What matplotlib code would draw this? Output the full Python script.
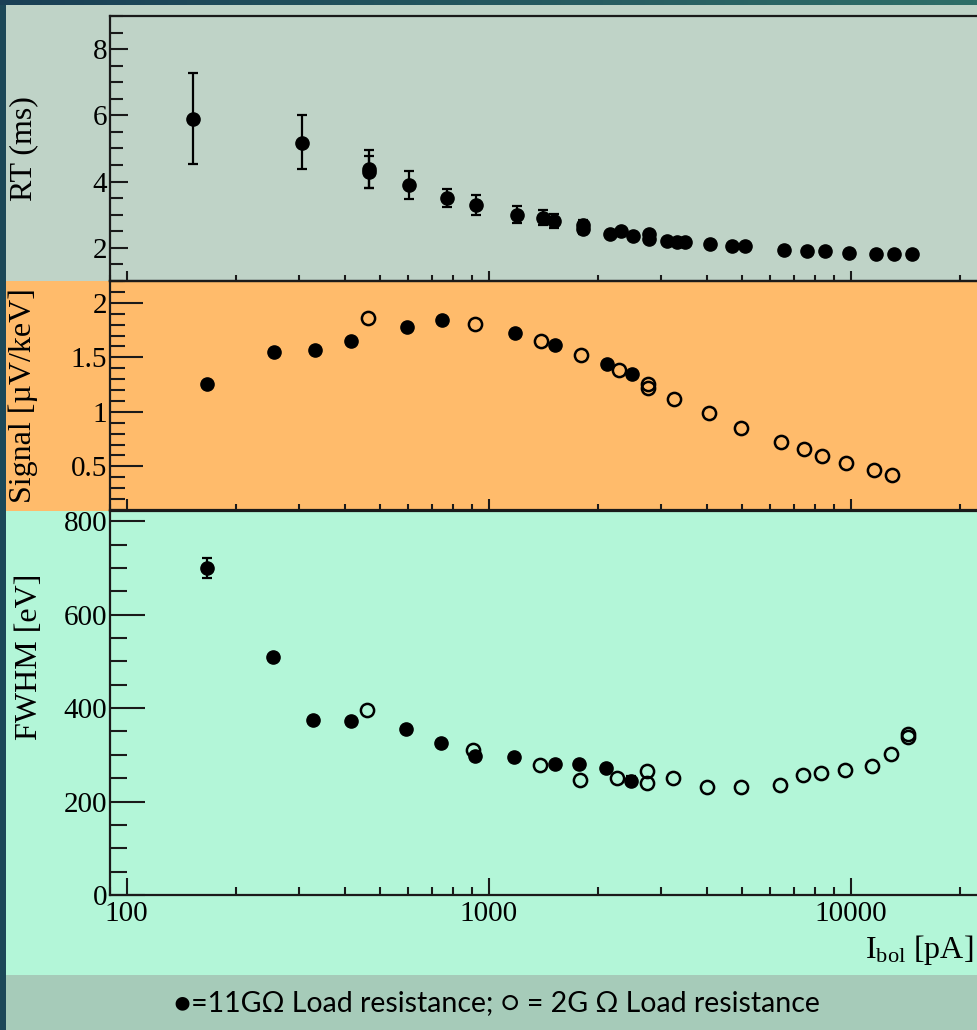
import numpy as np
import matplotlib
matplotlib.use('Agg')
import matplotlib.pyplot as plt
import matplotlib.ticker as mticker
from matplotlib.patches import Rectangle
from matplotlib.colors import LinearSegmentedColormap

plt.rcParams.update({
    'font.family':        'Liberation Serif',
    'mathtext.fontset':   'custom',
    'mathtext.rm':        'Liberation Serif',
    'mathtext.it':        'Liberation Serif:italic',
    'xtick.direction':    'in',
    'ytick.direction':    'in',
})

# ── Data ──────────────────────────────────────────────────────────────────────
# rise time, 11 GOhm load (all filled)
rt_i = [153, 305, 467, 467, 604, 766, 922, 1196, 1411, 1520, 1827, 1827,
        2166, 2318, 2502, 2781, 2781, 3118, 3323, 3490, 4092, 4696, 5111,
        6550, 7568, 8486, 9924, 11760, 13214, 14757]
rt = [5.88, 5.18, 4.38, 4.29, 3.90, 3.50, 3.30, 3.00, 2.90, 2.81, 2.68, 2.58,
      2.43, 2.50, 2.35, 2.42, 2.28, 2.20, 2.18, 2.18, 2.11, 2.05, 2.07,
      1.95, 1.91, 1.90, 1.86, 1.83, 1.80, 1.81]
rt_lo = [1.36, 0.79, 0.57, 0.49, 0.42, 0.28, 0.30, 0.26, 0.20, 0.20, 0.15, 0.15,
         0, 0, 0, 0.06, 0.06, 0, 0, 0, 0, 0, 0, 0, 0, 0, 0, 0, 0, 0]
rt_hi = [1.40, 0.82, 0.58, 0.49, 0.41, 0.28, 0.31, 0.26, 0.24, 0.22, 0.15, 0.15,
         0, 0, 0, 0.06, 0.06, 0, 0, 0, 0, 0, 0, 0, 0, 0, 0, 0, 0, 0]

# signal
sig_full_i = [167, 256, 331, 418, 597, 746, 1181, 1528, 2124, 2498]
sig_full = [1.26, 1.55, 1.57, 1.65, 1.78, 1.84, 1.72, 1.61, 1.44, 1.35]
sig_open_i = [463, 917, 1395, 1797, 2289, 2758, 2758, 3243, 4051, 4995,
              6439, 7426, 8364, 9688, 11575, 13042]
sig_open = [1.86, 1.81, 1.65, 1.52, 1.38, 1.26, 1.22, 1.12, 0.99, 0.85,
            0.725, 0.655, 0.595, 0.53, 0.47, 0.425]

# energy resolution
fw_full_i = [167, 254, 328, 416, 592, 738, 916, 1175, 1522, 1782, 2114, 2473]
fw_full = [700, 510, 374, 373, 356, 325, 298, 296, 280, 281, 272, 245]
fw_full_err = [22, 0, 0, 0, 0, 0, 0, 0, 0, 0, 0, 10]
fw_open_i = [461, 907, 1383, 1788, 2269, 2737, 2737, 3232, 4020, 4977,
             6386, 7398, 8300, 9652, 11490, 12950, 14400, 14400]
fw_open = [396, 311, 279, 247, 251, 265, 240, 251, 231, 232,
           235, 256, 261, 268, 276, 302, 338, 344]

# ── Figure geometry (pixels) ──────────────────────────────────────────────────
W, H = 977, 1030
fig = plt.figure(figsize=(W / 100, H / 100), dpi=100, facecolor='#1c4858')

def fr(x0, y0, x1, y1):
    """pixel box (top-left origin) -> figure fraction [l, b, w, h]"""
    return [x0 / W, 1 - y1 / H, (x1 - x0) / W, (y1 - y0) / H]

# top gradient band
gax = fig.add_axes(fr(0, 0, W, 5))
cmap = LinearSegmentedColormap.from_list('band', ['#1a3f55', '#2f6e68'])
gax.imshow(np.linspace(0, 1, 256)[None, :], aspect='auto', cmap=cmap)
gax.axis('off')

# panel backgrounds
for (y0, y1, c) in [(5, 281, '#bfd3c7'), (281, 511, '#ffbb6b'),
                    (511, 975, '#b3f6d8'), (975, H, '#a6cbb9')]:
    l, b, w, h = fr(6, y0, W, y1)
    fig.patches.append(Rectangle((l, b), w, h, transform=fig.transFigure,
                                 facecolor=c, edgecolor='none', zorder=-10))

XL = (90, 22200)
X0 = 110
XR = X0 + 362 * np.log10(XL[1] / XL[0])

def style(ax, ymaj, ymin, ylen, xlen, labels=False):
    ax.set_zorder(2)
    ax.set_facecolor('none')
    ax.set_xscale('log')
    ax.set_xlim(*XL)
    for s in ('left', 'bottom', 'top'):
        ax.spines[s].set_linewidth(1.6)
        ax.spines[s].set_color('#1a1a1a')
    ax.spines['right'].set_visible(False)
    ax.xaxis.set_major_locator(mticker.LogLocator(base=10, numticks=10))
    ax.xaxis.set_minor_locator(mticker.LogLocator(base=10, subs=np.arange(2, 10), numticks=20))
    ax.xaxis.set_minor_formatter(mticker.NullFormatter())
    if labels:
        ax.xaxis.set_major_formatter(mticker.FuncFormatter(lambda x, _: f'{x:g}'))
    else:
        ax.xaxis.set_major_formatter(mticker.NullFormatter())
    ax.yaxis.set_major_locator(mticker.MultipleLocator(ymaj))
    ax.yaxis.set_minor_locator(mticker.MultipleLocator(ymin))
    ax.yaxis.set_major_formatter(mticker.FuncFormatter(lambda v, _: f'{v:g}'))
    ax.tick_params(axis='y', which='major', length=ylen[0], width=1.5,
                   labelsize=21, pad=2, color='#1a1a1a', right=False)
    ax.tick_params(axis='y', which='minor', length=ylen[1], width=1.5,
                   color='#1a1a1a', right=False)
    ax.tick_params(axis='x', which='major', length=xlen[0], width=1.5,
                   labelsize=21, pad=4, color='#1a1a1a', top=False)
    ax.tick_params(axis='x', which='minor', length=xlen[1], width=1.5,
                   color='#1a1a1a', top=False)

ms = 9.5
full_kw = dict(fmt='o', color='black', ms=ms, elinewidth=1.6, capsize=3.5,
               capthick=1.6, linestyle='none')
open_kw = dict(marker='o', ls='none', mfc='none', mec='black', mew=1.8, ms=ms)

# ── Top: rise time ────────────────────────────────────────────────────────────
ax1 = fig.add_axes(fr(X0, 16, XR, 281))
style(ax1, 2, 0.5, (13, 9), (7, 4))
ax1.set_ylim(1, 9)
ax1.errorbar(rt_i, rt, yerr=[rt_lo, rt_hi], **full_kw)
ax1.set_ylabel('RT (ms)', fontsize=23)
ax1.yaxis.set_label_coords(-0.083, 0.5)

# ── Middle: signal ────────────────────────────────────────────────────────────
ax2 = fig.add_axes(fr(X0, 281, XR, 510))
style(ax2, 0.5, 0.1, (24, 11), (8, 4))
ax2.set_ylim(0.1, 2.2)
ax2.plot(sig_full_i, sig_full, 'o', color='black', ms=ms, ls='none')
ax2.plot(sig_open_i, sig_open, **open_kw)
ax2.set_ylabel('Signal [µV/keV]', fontsize=23)
ax2.yaxis.set_label_coords(-0.083, 0.5)

# ── Bottom: FWHM ──────────────────────────────────────────────────────────────
ax3 = fig.add_axes(fr(X0, 511, XR, 895))
style(ax3, 200, 50, (25, 12), (12, 6), labels=True)
ax3.set_ylim(0, 822)
ax3.errorbar(fw_full_i, fw_full, yerr=fw_full_err, **full_kw)
ax3.plot(fw_open_i, fw_open, **open_kw)
ax3.set_ylabel('FWHM [eV]', fontsize=23)
ax3.yaxis.set_label_coords(-0.076, 0.62)
fig.text(973 / W, 1 - 958 / H, r'I$_{\mathrm{bol}}$ [pA]', fontsize=23,
         ha='right', va='baseline')

# ── Caption strip ─────────────────────────────────────────────────────────────
fig.text(497 / W, 1 - 1003 / H,
         '●=11GΩ Load resistance; ○ = 2G Ω Load resistance',
         family=['Lato', 'DejaVu Sans'], fontsize=20.5, color='black',
         ha='center', va='center')

fig.savefig('out.png', dpi=100, facecolor=fig.get_facecolor())
